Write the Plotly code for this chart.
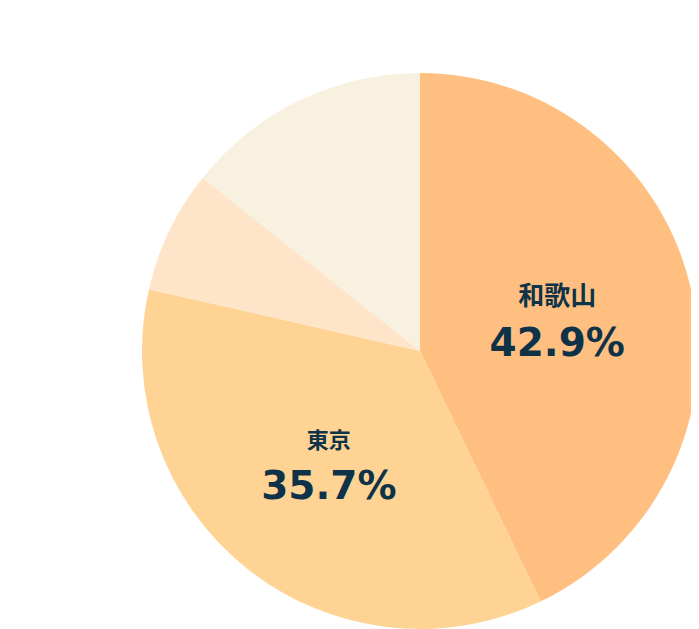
import plotly.graph_objects as go

# data
labels = ["和歌山", "東京", "その他1", "その他2"]
values = [6, 5, 1, 2]
colors = ["#FFBF80", "#FED394", "#FEE4C9", "#F8F1E0"]
name_sizes = [26, 22, None, None]  # None = no text on slice


def make_template(sz):
    if sz is None:
        return ""
    return (f"<span style='font-size:{sz}px;font-family:Noto Sans CJK JP'><b>%{{label}}</b></span>"
            "<br>%{percent:.1%}")


templates = [make_template(s) for s in name_sizes]

W, H = 699, 629
cx, cy, r = 412, 343, 278

fig = go.Figure(go.Pie(
    labels=labels,
    values=values,
    sort=False,
    direction="clockwise",
    rotation=0,
    marker=dict(colors=colors, line=dict(width=0)),
    texttemplate=templates,
    textposition="inside",
    insidetextorientation="horizontal",
    textfont=dict(family="DejaVu Sans, Noto Sans CJK JP", size=39, color="#0E3348", weight="bold"),
    hoverinfo="label+percent",
    domain=dict(x=[(cx - r) / W, (cx + r) / W],
                y=[(H - cy - r) / H, (H - cy + r) / H]),
))

fig.update_layout(
    width=W, height=H,
    margin=dict(l=0, r=0, t=0, b=0),
    showlegend=False,
    paper_bgcolor="white",
    uniformtext=dict(mode=False),
)

fig.write_html("out.html")
